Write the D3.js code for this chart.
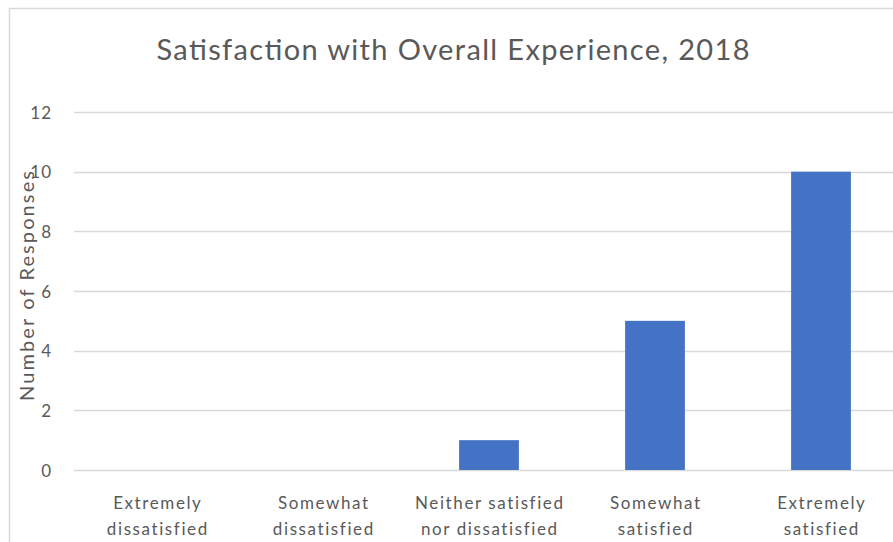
<!DOCTYPE html>
<html><head><meta charset="utf-8">
<script src="https://cdn.jsdelivr.net/npm/d3@7"></script>
<style>body{margin:0;background:#fff;}svg{display:block;font-family:Lato,"Open Sans",sans-serif;}</style>
</head><body>
<svg id="c" width="893" height="542"></svg>
<script>
const categories = [["Extremely","dissatisfied"],["Somewhat","dissatisfied"],["Neither satisfied","nor dissatisfied"],["Somewhat","satisfied"],["Extremely","satisfied"]];
const values = [0, 0, 1, 5, 10];
const yTicks = [0, 2, 4, 6, 8, 10, 12];
const title = "Satisfaction with Overall Experience, 2018";
const yTitle = "Number of Responses";

const svg = d3.select("#c");
svg.append("rect").attr("x", 9.5).attr("y", 8.5).attr("width", 900).attr("height", 600)
  .attr("fill", "#fff").attr("stroke", "#d9d9d9").attr("stroke-width", 1.5);

const x = d3.scaleBand().domain(d3.range(categories.length)).range([74, 904]).paddingInner(0.64).paddingOuter(0.32);
const y = d3.scaleLinear().domain([0, 12]).range([470, 112]);

svg.append("g").selectAll("line").data(yTicks).join("line")
  .attr("x1", 74).attr("x2", 904)
  .attr("y1", d => Math.round(y(d)) + 0.5).attr("y2", d => Math.round(y(d)) + 0.5)
  .attr("stroke", "#d9d9d9").attr("stroke-width", 1.3);

const yAxis = d3.axisLeft(y).tickValues(yTicks).tickSize(0).tickPadding(0);
const ya = svg.append("g").attr("transform", "translate(52,0)").call(yAxis);
ya.select(".domain").remove();
ya.selectAll("text").attr("fill", "#595959").attr("font-size", 17).attr("letter-spacing", 1)
  .attr("font-family", "Lato, sans-serif").attr("dy", "0.36em");

svg.append("g").selectAll("rect").data(values).join("rect")
  .attr("x", (d, i) => x(i)).attr("width", x.bandwidth())
  .attr("y", d => y(d)).attr("height", d => y(0) - y(d))
  .attr("fill", "#4472C4");

const xl = svg.append("g");
categories.forEach((lines, i) => {
  const cx = x(i) + x.bandwidth() / 2;
  const t = xl.append("text").attr("text-anchor", "middle").attr("fill", "#595959")
    .attr("font-size", 17).attr("letter-spacing", 1.6).attr("x", cx).attr("y", 509);
  lines.forEach((l, j) => t.append("tspan").attr("x", cx + 0.8).attr("dy", j ? 26 : 0).text(l));
});

svg.append("text").attr("x", 453).attr("y", 60).attr("text-anchor", "middle")
  .attr("fill", "#595959").attr("font-size", 29).attr("textLength", 593).attr("lengthAdjust", "spacing").text(title);

svg.append("text").attr("transform", "translate(34,286) rotate(-90)").attr("text-anchor", "middle")
  .attr("fill", "#595959").attr("font-size", 20).attr("textLength", 230).attr("lengthAdjust", "spacing").text(yTitle);
</script>
</body></html>
